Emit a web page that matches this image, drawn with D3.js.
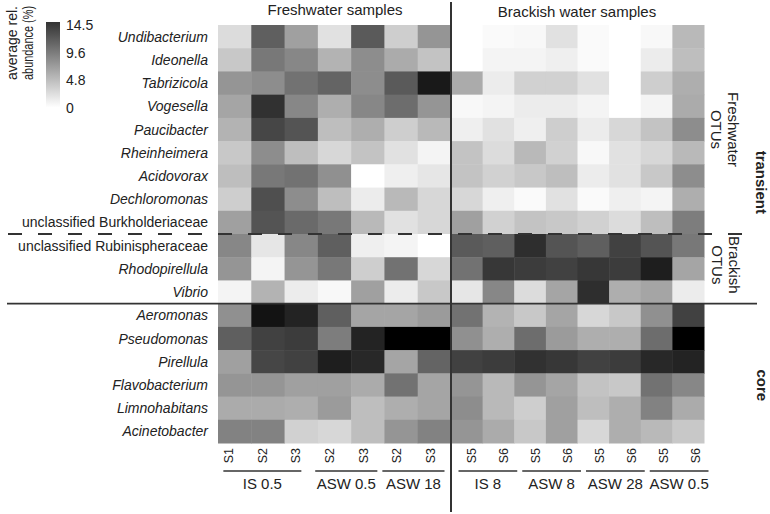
<!DOCTYPE html>
<html lang="en">
<head>
    <meta charset="utf-8">
    <title>OTU heatmap</title>
    <script src="https://cdn.jsdelivr.net/npm/d3@7"></script>
    <style>
        body { margin: 0; background: #fff; }
        text { font-family: "Liberation Sans", Arial, sans-serif; fill: #222; }
    </style>
</head>
<body>
    <div class="div_d3"></div>
    <script>
        let w = 770;
        let h = 514;

        // taxa, top to bottom
        let taxa = ["Undibacterium", "Ideonella", "Tabrizicola", "Vogesella", "Paucibacter",
            "Rheinheimera", "Acidovorax", "Dechloromonas", "unclassified Burkholderiaceae",
            "unclassified Rubinispheraceae", "Rhodopirellula", "Vibrio",
            "Aeromonas", "Pseudomonas", "Pirellula", "Flavobacterium", "Limnohabitans", "Acinetobacter"];
        let uprightTaxa = ["unclassified Burkholderiaceae", "unclassified Rubinispheraceae"];

        // sample columns
        let freshSamples = ["S1", "S2", "S3", "S2", "S3", "S2", "S3"];
        let freshGroups = ["IS 0.5", "IS 0.5", "IS 0.5", "ASW 0.5", "ASW 0.5", "ASW 18", "ASW 18"];
        let brackSamples = ["S5", "S6", "S5", "S6", "S5", "S6", "S5", "S6"];
        let brackGroups = ["IS 8", "IS 8", "ASW 8", "ASW 8", "ASW 28", "ASW 28", "ASW 0.5", "ASW 0.5"];

        // average rel. abundance (%), one row per taxon
        let freshValues = [
            [2.0, 9.1, 5.4, 1.7, 9.4, 2.8, 6.0],
            [3.1, 7.7, 6.8, 4.3, 6.5, 4.8, 3.4],
            [6.0, 6.5, 8.0, 8.8, 6.5, 9.4, 13.1],
            [5.1, 11.7, 6.8, 4.6, 6.8, 8.3, 6.0],
            [4.3, 10.5, 9.7, 3.7, 4.6, 2.8, 4.0],
            [3.1, 6.5, 3.7, 2.3, 3.4, 1.7, 0.6],
            [3.7, 7.7, 8.0, 6.3, 0.0, 0.9, 1.4],
            [2.8, 10.0, 6.5, 3.7, 1.1, 4.0, 2.3],
            [5.4, 9.7, 8.5, 7.7, 4.0, 1.7, 2.3],
            [6.8, 1.4, 6.8, 9.1, 0.9, 0.6, 0.0],
            [6.0, 0.6, 6.0, 7.7, 2.8, 8.0, 2.3],
            [0.6, 4.3, 1.1, 0.4, 5.4, 1.1, 3.1],
            [6.3, 13.4, 12.5, 9.1, 5.1, 5.1, 5.7],
            [9.1, 10.8, 11.1, 7.4, 12.5, 14.5, 14.5],
            [5.4, 10.5, 10.8, 12.8, 12.2, 5.1, 8.8],
            [6.0, 6.0, 5.4, 5.4, 4.8, 8.0, 5.1],
            [4.8, 4.8, 4.6, 5.7, 3.7, 4.6, 5.1],
            [7.1, 7.1, 2.6, 2.3, 3.7, 6.0, 7.1]
        ];
        let brackValues = [
            [0.0, 0.3, 0.4, 1.7, 0.3, 0.0, 0.4, 4.0],
            [0.0, 0.6, 0.6, 0.9, 0.3, 0.0, 1.1, 3.7],
            [4.8, 1.1, 2.6, 2.6, 1.7, 0.0, 2.8, 4.6],
            [0.4, 0.6, 1.1, 1.1, 0.6, 0.0, 0.6, 4.8],
            [0.9, 1.7, 0.9, 2.8, 1.1, 2.3, 3.4, 6.5],
            [3.4, 2.0, 4.0, 2.6, 0.4, 1.7, 2.3, 4.0],
            [3.4, 2.6, 3.1, 3.7, 1.1, 1.7, 3.1, 6.5],
            [2.3, 0.9, 0.3, 1.7, 0.3, 0.9, 0.6, 4.6],
            [5.4, 2.6, 3.4, 3.1, 2.6, 2.0, 3.7, 7.4],
            [9.4, 9.1, 11.9, 9.7, 9.1, 10.8, 9.7, 7.7],
            [8.0, 11.4, 11.1, 10.8, 11.4, 11.1, 12.8, 5.1],
            [1.4, 6.8, 2.0, 5.1, 11.9, 4.6, 5.1, 1.1],
            [8.0, 4.3, 3.1, 5.1, 2.3, 3.1, 6.3, 10.8],
            [6.3, 4.6, 8.3, 5.7, 4.6, 4.6, 8.3, 14.5],
            [10.8, 11.1, 11.7, 11.4, 10.8, 11.1, 12.2, 12.5],
            [6.0, 4.0, 6.0, 5.1, 3.4, 3.1, 8.0, 6.8],
            [6.5, 4.0, 2.8, 5.4, 3.7, 4.6, 7.1, 4.8],
            [6.0, 4.8, 3.1, 5.4, 2.3, 4.6, 4.0, 3.1]
        ];

        let legendTicks = [0, 4.8, 9.6, 14.5];

        let svg = d3.select('.div_d3').append('svg')
            .attr('width', w)
            .attr('height', h);

        let color = d3.scaleLinear().domain([0, 14.5]).range(["#ffffff", "#000000"]);

        let y = d3.scaleBand().domain(taxa).range([25, 443]);
        let xFresh = d3.scaleBand().domain(d3.range(freshSamples.length)).range([218, 451]);
        let xBrack = d3.scaleBand().domain(d3.range(brackSamples.length)).range([451, 704]);
        // sample labels sit slightly off the cell grid in the original figure
        let xFreshLab = d3.scaleBand().domain(d3.range(freshSamples.length)).range([212, 447]);
        let xBrackLab = d3.scaleBand().domain(d3.range(brackSamples.length)).range([456, 711]);

        // cells
        let cells = [];
        taxa.forEach(function (t, r) {
            freshValues[r].forEach(function (v, c) {
                cells.push({ taxon: t, x: xFresh(c), w: xFresh.bandwidth(), v: v });
            });
            brackValues[r].forEach(function (v, c) {
                cells.push({ taxon: t, x: xBrack(c), w: xBrack.bandwidth(), v: v });
            });
        });

        svg.append("g").selectAll("rect")
            .data(cells)
            .enter()
            .append("rect")
                .attr("x", function (d) { return d.x; })
                .attr("y", function (d) { return y(d.taxon); })
                .attr("width", function (d) { return d.w + 0.5; })
                .attr("height", y.bandwidth() + 0.5)
                .attr("fill", function (d) { return color(d.v); });

        // row labels
        svg.append("g").selectAll("text")
            .data(taxa)
            .enter()
            .append("text")
                .text(function (d) { return d; })
                .attr("x", 208)
                .attr("y", function (d) { return y(d) + y.bandwidth() / 2 + 5; })
                .attr("text-anchor", "end")
                .style("font-size", "14px")
                .style("font-style", function (d) { return uprightTaxa.indexOf(d) >= 0 ? "normal" : "italic"; });

        // separators
        let yDash = y(taxa[9]);
        let ySolid = y(taxa[12]);
        svg.append("line")
            .attr("x1", 8).attr("x2", 752)
            .attr("y1", yDash).attr("y2", yDash)
            .attr("stroke", "#333").attr("stroke-width", 2)
            .attr("stroke-dasharray", "14,16");
        svg.append("line")
            .attr("x1", 7).attr("x2", 757)
            .attr("y1", ySolid).attr("y2", ySolid)
            .attr("stroke", "#333").attr("stroke-width", 1.6);
        svg.append("line")
            .attr("x1", 451).attr("x2", 451)
            .attr("y1", 2).attr("y2", 512)
            .attr("stroke", "#333").attr("stroke-width", 2);

        // top titles
        svg.append("text").text("Freshwater samples")
            .attr("x", 335).attr("y", 15)
            .attr("text-anchor", "middle").style("font-size", "15px");
        svg.append("text").text("Brackish water samples")
            .attr("x", 577).attr("y", 17)
            .attr("text-anchor", "middle").style("font-size", "15px");

        // sample labels + group lines
        function sampleAxis(samples, groups, xs) {
            let g = svg.append("g");
            g.selectAll("text.sample")
                .data(samples)
                .enter()
                .append("text")
                    .attr("class", "sample")
                    .text(function (d) { return d; })
                    .attr("transform", function (d, i) {
                        return "translate(" + (xs(i) + xs.bandwidth() / 2 + 4.5) + ",448) rotate(-90)";
                    })
                    .attr("text-anchor", "end")
                    .style("font-size", "12.5px");

            let names = [];
            groups.forEach(function (gname, i) {
                let last = names[names.length - 1];
                if (last && last.name === gname) { last.end = i; }
                else { names.push({ name: gname, start: i, end: i }); }
            });
            names.forEach(function (d) {
                let x0 = xs(d.start), x1 = xs(d.end) + xs.bandwidth();
                let mid = (x0 + x1) / 2;
                let half = Math.min(x1 - x0 - 5, 78) / 2;
                g.append("line")
                    .attr("x1", mid - half).attr("x2", mid + half)
                    .attr("y1", 471).attr("y2", 471)
                    .attr("stroke", "#333").attr("stroke-width", 1.6);
                g.append("text").text(d.name)
                    .attr("x", mid).attr("y", 489)
                    .attr("text-anchor", "middle").style("font-size", "15px");
            });
        }
        sampleAxis(freshSamples, freshGroups, xFreshLab);
        sampleAxis(brackSamples, brackGroups, xBrackLab);

        // right side group labels
        function sideLabel(lines, x, yc, bold) {
            let t = svg.append("text")
                .attr("transform", "translate(" + x + "," + yc + ") rotate(90)")
                .attr("text-anchor", "middle")
                .style("font-size", "15px")
                .style("font-weight", bold ? "bold" : "normal");
            lines.forEach(function (l, i) {
                t.append("tspan").attr("x", 0).attr("dy", i === 0 ? 0 : 17).text(l);
            });
        }
        let yMid = function (a, b) { return (y(taxa[a]) + y(taxa[b]) + y.bandwidth()) / 2; };
        sideLabel(["Freshwater", "OTUs"], 728, yMid(0, 8), false);
        sideLabel(["Brackish", "OTUs"], 729, yMid(9, 11) - 4, false);
        sideLabel(["transient"], 756, yMid(0, 11) + 18, true);
        sideLabel(["core"], 757, yMid(12, 17) + 12, true);

        // legend
        let ly = d3.scaleLinear().domain([0, 14.5]).range([107.5, 25]);
        let grad = svg.append("defs").append("linearGradient")
            .attr("id", "lg").attr("x1", 0).attr("x2", 0).attr("y1", 1).attr("y2", 0);
        grad.append("stop").attr("offset", 0).attr("stop-color", color(0));
        grad.append("stop").attr("offset", 1).attr("stop-color", "#333");
        svg.append("rect")
            .attr("x", 46).attr("y", ly(14.5) - 3)
            .attr("width", 14).attr("height", ly(0) - ly(14.5) + 3)
            .attr("fill", "url(#lg)");
        svg.append("g").selectAll("text")
            .data(legendTicks)
            .enter()
            .append("text")
                .text(function (d) { return d; })
                .attr("x", 66)
                .attr("y", function (d) { return ly(d) + 5; })
                .style("font-size", "14px");

        // legend title, two rotated lines (second one squeezed as in the original)
        let lt = svg.append("g").attr("transform", "translate(17,80) rotate(-90)");
        lt.append("text").text("average rel.")
            .style("font-size", "14px");
        lt.append("text").text("abundance (%)")
            .attr("transform", "translate(0,16) scale(0.78,1)")
            .style("font-size", "14px");
    </script>
</body>
</html>
